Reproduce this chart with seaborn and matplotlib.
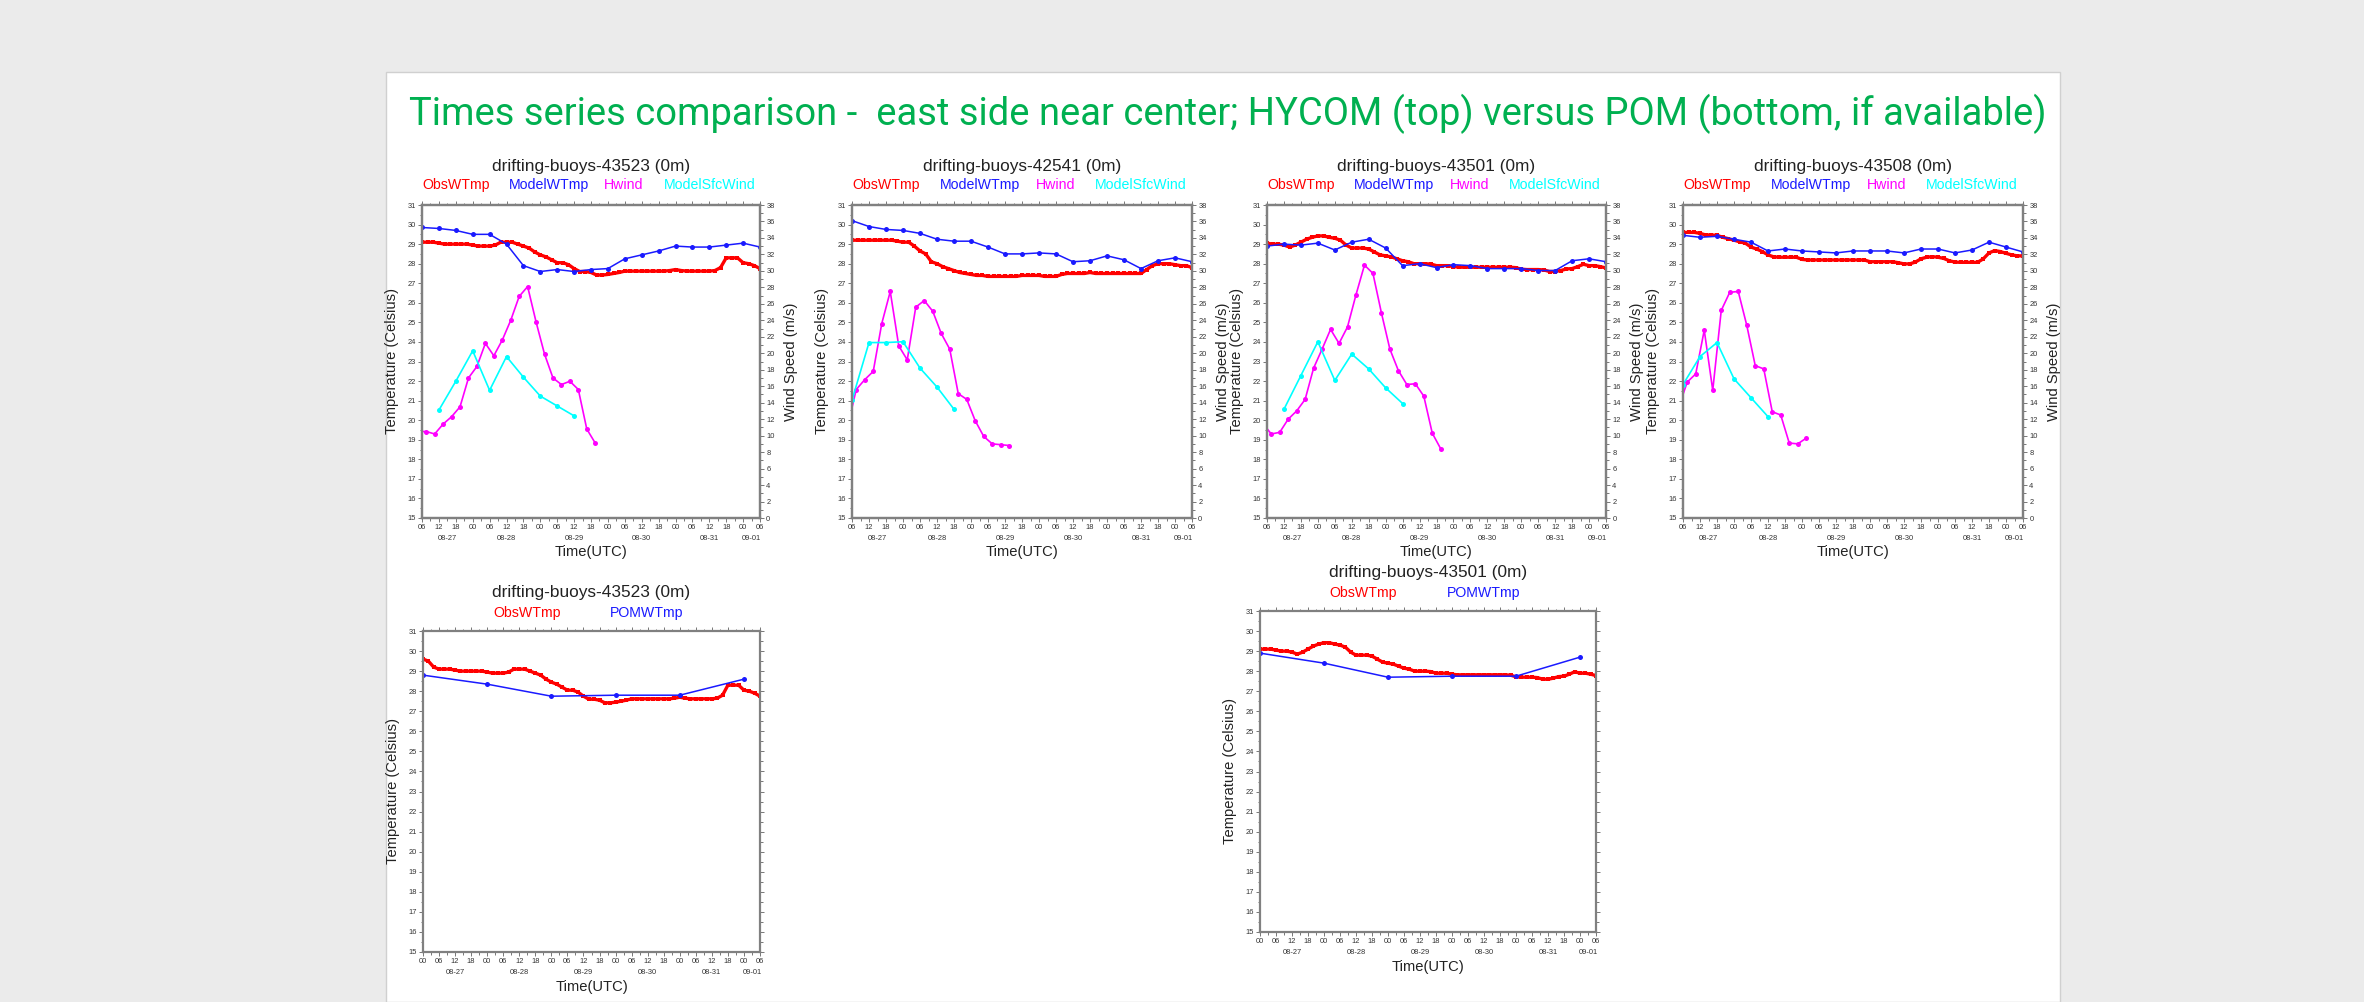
import numpy as np
import matplotlib
matplotlib.use("Agg")
import matplotlib.pyplot as plt
import matplotlib.transforms as mtrans
from matplotlib.patches import Rectangle
from matplotlib.ticker import MultipleLocator
import seaborn as sns

# ---------------- data (hours since 08-27 00Z) ----------------
TITLE = "Times series comparison -  east side near center; HYCOM (top) versus POM (bottom, if available)"
top_buoys = ["43523", "42541", "43501", "43508"]
bottom_buoys = ["43523", "43501"]
day_labels = ["08-27", "08-28", "08-29", "08-30", "08-31", "09-01"]
top_legend = ["ObsWTmp", "ModelWTmp", "Hwind", "ModelSfcWind"]
bottom_legend = ["ObsWTmp", "POMWTmp"]

# observed water temperature, every 2 h from the start hour
obs_start = {"43523": 0, "42541": 6, "43501": 0, "43508": 6}
obs_43523 = [29.6, 29.5, 29.2, 29.1, 29.1, 29.1, 29.05, 29.0, 29.0, 29.0,
             29.0, 29.0, 28.95, 28.9, 28.9, 28.9, 28.95, 29.1, 29.1, 29.1,
             29.0, 28.9, 28.8, 28.6, 28.45, 28.35, 28.2, 28.05, 28.05, 27.95,
             27.75, 27.6, 27.6, 27.55, 27.42, 27.42, 27.45, 27.5, 27.55, 27.62,
             27.62, 27.62, 27.62, 27.62, 27.62, 27.62, 27.62, 27.65, 27.7, 27.65,
             27.62, 27.62, 27.62, 27.62, 27.62, 27.65, 27.8, 28.3, 28.3, 28.3,
             28.05, 28.0, 27.9, 27.75]
obs_42541 = [29.2, 29.2, 29.2, 29.2, 29.2, 29.2, 29.2, 29.2,
             29.15, 29.1, 29.1, 28.9, 28.65, 28.5, 28.1, 28.0, 27.85, 27.75,
             27.65, 27.55, 27.5, 27.45, 27.4, 27.4,
             27.35, 27.35, 27.35, 27.35, 27.35, 27.35,
             27.4, 27.4, 27.4, 27.4,
             27.35, 27.35, 27.35,
             27.45, 27.5, 27.5, 27.5, 27.5, 27.55,
             27.5, 27.5, 27.5, 27.5, 27.5, 27.5, 27.5, 27.5, 27.5,
             27.7, 27.9, 28.0, 28.0, 28.0, 27.95, 27.9, 27.9, 27.8]
obs_43501 = [29.1, 29.1, 29.1, 29.05, 29.0, 29.0, 28.95, 28.85, 28.95, 29.1,
             29.25, 29.35, 29.42, 29.42, 29.35, 29.3, 29.2, 28.95, 28.8, 28.8,
             28.8, 28.75, 28.6, 28.45, 28.4, 28.35, 28.25, 28.15, 28.1, 28.0,
             28.0, 28.0, 27.98, 27.9, 27.9, 27.9, 27.85,
             27.82, 27.82, 27.82, 27.82, 27.82, 27.82, 27.82, 27.82, 27.82, 27.82,
             27.8, 27.72, 27.7, 27.7, 27.7, 27.68, 27.6, 27.6, 27.65, 27.73,
             27.75, 27.85, 27.97, 27.9, 27.9, 27.85, 27.78, 27.75]
obs_43508 = [29.6, 29.6, 29.6, 29.55, 29.47, 29.47, 29.45, 29.35, 29.28, 29.2,
             29.12, 29.05, 28.85, 28.75, 28.62, 28.45, 28.35, 28.33, 28.33, 28.33,
             28.33, 28.22,
             28.19, 28.19, 28.19, 28.19, 28.19, 28.19, 28.19, 28.19, 28.19, 28.19, 28.19,
             28.1, 28.1, 28.1, 28.1, 28.1,
             28.05, 27.99, 27.99, 28.08, 28.25, 28.33, 28.36, 28.33, 28.27, 28.15, 28.08,
             28.07, 28.07, 28.07, 28.07,
             28.25, 28.55, 28.67, 28.62, 28.53, 28.45, 28.4, 28.4]

# HYCOM water temperature, every 6 h from 06Z 08-27
model_start = 6
model_43523 = [29.85, 29.8, 29.7, 29.5, 29.5, 29.0, 27.9, 27.6, 27.7, 27.6, 27.7,
               27.75, 28.25, 28.45, 28.65, 28.9, 28.85, 28.85, 28.95, 29.05, 28.85]
model_42541 = [30.2, 29.9, 29.75, 29.7, 29.55, 29.25, 29.15, 29.15, 28.85, 28.5, 28.5,
               28.55, 28.5, 28.1, 28.15, 28.4, 28.2, 27.75, 28.15, 28.3, 28.1]
model_43501 = [28.9, 29.0, 28.95, 29.05, 28.7, 29.1, 29.25, 28.8, 27.9, 28.0, 27.8,
               27.95, 27.9, 27.75, 27.75, 27.75, 27.65, 27.65, 28.15, 28.25, 28.1]
model_43508 = [29.45, 29.35, 29.4, 29.25, 29.1, 28.65, 28.75, 28.65, 28.6, 28.55, 28.65,
               28.65, 28.65, 28.55, 28.75, 28.75, 28.55, 28.7, 29.1, 28.85, 28.6]

# Hwind (m/s), every 3 h from 04:30Z 08-27
hwind_start = 4.5
hwind_43523 = [10.5, 10.5, 10.2, 11.4, 12.3, 13.5, 17.0, 18.4, 21.2, 19.7, 21.6,
               24.0, 26.9, 28.1, 23.8, 19.9, 17.0, 16.2, 16.6, 15.6, 10.8, 9.1]
hwind_42541 = [11.2, 15.6, 16.8, 17.8, 23.6, 27.5, 20.9, 19.2, 25.6, 26.4, 25.1,
               22.4, 20.5, 15.1, 14.4, 11.8, 9.9, 9.0, 8.9, 8.8]
hwind_43501 = [11.5, 10.2, 10.4, 12.0, 13.0, 14.4, 18.2, 20.5, 22.9, 21.2, 23.2,
               27.1, 30.7, 29.7, 24.9, 20.5, 17.9, 16.2, 16.3, 14.8, 10.3, 8.4]
hwind_43508 = [13.5, 16.5, 17.5, 22.8, 15.5, 25.2, 27.4, 27.5, 23.4, 18.5, 18.1,
               12.9, 12.5, 9.1, 9.0, 9.7]

# HYCOM surface wind (m/s), every 6 h
sfc_start = {"43523": 12, "42541": 6, "43501": 12, "43508": 6}
sfc_43523 = [13.1, 16.6, 20.3, 15.5, 19.6, 17.1, 14.8, 13.6, 12.4]
sfc_42541 = [14.3, 21.3, 21.3, 21.4, 18.2, 15.9, 13.2]
sfc_43501 = [13.2, 17.3, 21.4, 16.7, 19.9, 18.1, 15.8, 13.9]
sfc_43508 = [16.2, 19.6, 21.3, 16.9, 14.6, 12.3]

# POM water temperature, every 24 h from 00Z 08-27
pom_start = 0
pom_43523 = [28.8, 28.35, 27.75, 27.8, 27.8, 28.6]
pom_43501 = [28.9, 28.4, 27.7, 27.75, 27.75, 28.7]

obs = {"43523": obs_43523, "42541": obs_42541, "43501": obs_43501, "43508": obs_43508}
model = {"43523": model_43523, "42541": model_42541, "43501": model_43501, "43508": model_43508}
hwind = {"43523": hwind_43523, "42541": hwind_42541, "43501": hwind_43501, "43508": hwind_43508}
sfc = {"43523": sfc_43523, "42541": sfc_42541, "43501": sfc_43501, "43508": sfc_43508}
pom = {"43523": pom_43523, "43501": pom_43501}

# ---------------- style ----------------
sns.set_theme(style="white")
plt.rcParams["font.family"] = ["Liberation Sans", "DejaVu Sans"]

W, H = 2364, 1002
fig = plt.figure(figsize=(W / 100, H / 100), dpi=100)
fig.patch.set_facecolor("#ebebeb")
fig.add_artist(Rectangle((386 / W, 0), (2060 - 386) / W, 1 - 72 / H,
                         transform=fig.transFigure, facecolor="white",
                         edgecolor="#d0d0d0", linewidth=1.0, zorder=0))

RED, BLUE, MAG, CYAN = "#ff0000", "#1a1aff", "#ff00ff", "#00ffff"
TXT = "#222222"
TICK_FS = 5.4


def hours(start, n, step):
    return [start + step * i for i in range(n)]


def draw(ax, x, y, color, marker, ms, lw):
    sns.lineplot(x=np.asarray(x, float), y=np.asarray(y, float), ax=ax, color=color,
                 linewidth=lw, marker=marker, markersize=ms, markeredgewidth=0,
                 markeredgecolor=color, sort=False, estimator=None, legend=False)


def style(ax, x0, x1, twin=None):
    ax.set_facecolor("white")
    ax.set_xlim(x0, x1)
    ax.set_ylim(15, 31)
    xt = list(range(x0, x1 + 1, 6))
    ax.set_xticks(xt)
    ax.set_xticklabels([f"{h % 24:02d}" for h in xt])
    ax.set_yticks(range(15, 32))
    ax.xaxis.set_minor_locator(MultipleLocator(3))
    ax.yaxis.set_minor_locator(MultipleLocator(0.5))
    ax.tick_params(which="both", direction="out", top=True, bottom=True, left=True,
                   right=(twin is None), color="#777777", labelcolor="#333333",
                   labelsize=TICK_FS, pad=1.5, width=0.7)
    ax.tick_params(which="major", length=3)
    ax.tick_params(which="minor", length=1.8)
    ax.set_xlabel("")
    ax.set_ylabel("")
    for s in ax.spines.values():
        s.set_color("#808080")
        s.set_linewidth(1.6)
    # date labels centred on the visible part of each day
    tr = mtrans.blended_transform_factory(ax.transData, ax.transAxes)
    hpx = ax.get_position().height * H
    for d, lab in enumerate(day_labels):
        a, b = max(24 * d, x0), min(24 * d + 24, x1)
        if b > a:
            ax.text((a + b) / 2, -20 / hpx, lab,
                    transform=tr, ha="center", va="center", fontsize=TICK_FS, color="#333333")
    if twin is not None:
        twin.set_ylim(0, 38)
        twin.set_yticks(range(0, 39, 2))
        twin.yaxis.set_minor_locator(MultipleLocator(1))
        twin.tick_params(which="both", direction="out", right=True, color="#777777",
                         labelcolor="#333333", labelsize=TICK_FS, pad=1.5, width=0.7)
        twin.tick_params(which="major", length=3)
        twin.tick_params(which="minor", length=1.8)
        twin.set_ylabel("")
        for s in twin.spines.values():
            s.set_color("#808080")
            s.set_linewidth(1.6)


# ---------------- top row (HYCOM) ----------------
top_left = [422, 852, 1267, 1683]
top_w = [338, 340, 339, 340]
ty0, ty1 = 205, 518
for b, L, wd in zip(top_buoys, top_left, top_w):
    ax = fig.add_axes([L / W, 1 - ty1 / H, wd / W, (ty1 - ty0) / H])
    ax2 = ax.twinx()
    o = obs[b]
    draw(ax, hours(obs_start[b], len(o), 2), o, RED, "s", 3.2, 2.4)
    m = model[b]
    draw(ax, hours(model_start, len(m), 6), m, BLUE, "o", 3.6, 1.1)
    hw = hwind[b]
    draw(ax2, hours(hwind_start, len(hw), 3), hw, MAG, "o", 3.6, 1.2)
    sf = sfc[b]
    draw(ax2, hours(sfc_start[b], len(sf), 6), sf, CYAN, "o", 3.6, 1.2)
    style(ax, 6, 126, twin=ax2)
    hpx = ty1 - ty0
    ax.text(0.5, 1 + 38 / hpx, f"drifting-buoys-{b} (0m)", transform=ax.transAxes,
            ha="center", va="center", fontsize=12.4, color=TXT)
    for xf, lab, c in zip([0.10, 0.375, 0.598, 0.85], top_legend, [RED, BLUE, MAG, CYAN]):
        ax.text(xf, 1 + 20 / hpx, lab, transform=ax.transAxes, ha="center",
                va="center", fontsize=10.2, color=c)
    ax.text(-30 / wd, 0.5, "Temperature (Celsius)", transform=ax.transAxes, rotation=90,
            ha="center", va="center", fontsize=10.6, color=TXT)
    ax.text(1 + 31 / wd, 0.5, "Wind Speed (m/s)", transform=ax.transAxes, rotation=90,
            ha="center", va="center", fontsize=10.6, color=TXT)
    ax.text(0.5, -34 / hpx, "Time(UTC)", transform=ax.transAxes, ha="center",
            va="center", fontsize=10.6, color=TXT)

# ---------------- bottom row (POM) ----------------
bot_boxes = [(423, 337, 631, 952), (1260, 336, 611, 932)]
for b, (L, wd, y0, y1) in zip(bottom_buoys, bot_boxes):
    ax = fig.add_axes([L / W, 1 - y1 / H, wd / W, (y1 - y0) / H])
    o = obs[b]
    draw(ax, hours(obs_start[b], len(o), 2), o, RED, "s", 3.2, 2.4)
    p = pom[b]
    draw(ax, hours(pom_start, len(p), 24), p, BLUE, "o", 3.6, 1.1)
    style(ax, 0, 126, twin=None)
    hpx = y1 - y0
    ax.text(0.5, 1 + 39 / hpx, f"drifting-buoys-{b} (0m)", transform=ax.transAxes,
            ha="center", va="center", fontsize=12.4, color=TXT)
    for xf, lab, c in zip([0.308, 0.665], bottom_legend, [RED, BLUE]):
        ax.text(xf, 1 + 18 / hpx, lab, transform=ax.transAxes, ha="center",
                va="center", fontsize=10.2, color=c)
    ax.text(-30 / wd, 0.5, "Temperature (Celsius)", transform=ax.transAxes, rotation=90,
            ha="center", va="center", fontsize=10.6, color=TXT)
    ax.text(0.5, -35 / hpx, "Time(UTC)", transform=ax.transAxes, ha="center",
            va="center", fontsize=10.6, color=TXT)

# ---------------- slide title ----------------
title = fig.text(1227.5 / W, 1 - 114 / H, TITLE, ha="center", va="center",
                 fontsize=28, color="#00b050",
                 family=["Liberation Sans Narrow", "Roboto", "DejaVu Sans"])
fig.canvas.draw()
tw = title.get_window_extent(renderer=fig.canvas.get_renderer()).width
title.set_fontsize(28 * 1637 / tw)

fig.savefig("out.png", dpi=100, facecolor=fig.get_facecolor())
